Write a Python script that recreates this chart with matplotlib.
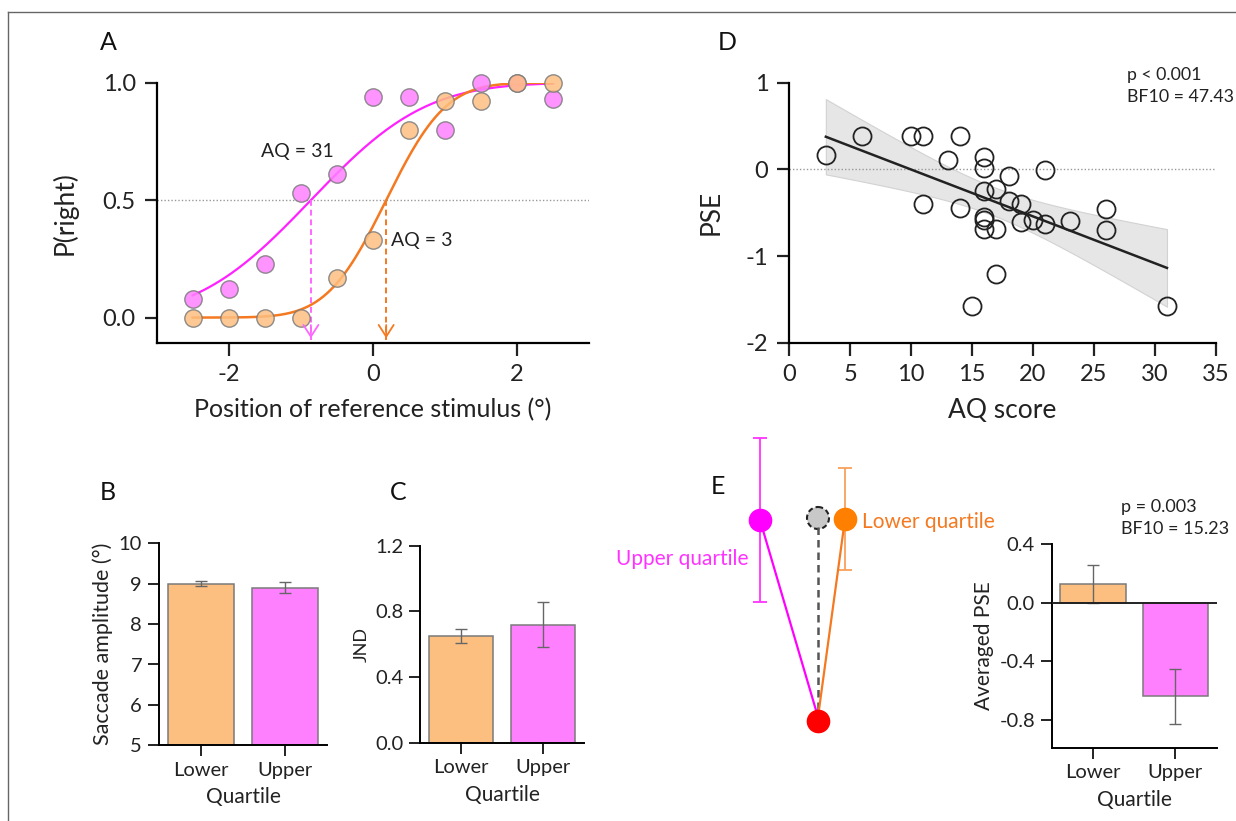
import math
import numpy as np
import matplotlib
matplotlib.use("Agg")
import matplotlib.pyplot as plt
from matplotlib.patches import Circle

plt.rcParams['font.family'] = ['Lato', 'DejaVu Sans']
plt.rcParams['axes.unicode_minus'] = False

# ---------------- data ----------------
# panel A: psychometric data for two example observers
stim_pos = [-2.5, -2.0, -1.5, -1.0, -0.5, 0.0, 0.5, 1.0, 1.5, 2.0, 2.5]
p_right_aq31 = [0.08, 0.12, 0.23, 0.53, 0.61, 0.94, 0.94, 0.80, 1.00, 1.00, 0.93]
p_right_aq3 = [0.00, 0.00, 0.00, 0.00, 0.17, 0.33, 0.80, 0.92, 0.92, 1.00, 1.00]
fit_pse_aq31, fit_sigma_aq31 = -0.86, 1.25
fit_pse_aq3, fit_sigma_aq3 = 0.185, 0.65

# panel D: PSE vs AQ score
aq_score = [3, 6, 10, 11, 14, 13, 16, 16, 21, 18, 11, 14, 16, 17, 18,
            19, 16, 16, 16, 17, 19, 20, 21, 23, 26, 26, 17, 15, 31]
pse = [0.17, 0.39, 0.39, 0.39, 0.39, 0.11, 0.14, 0.02, -0.01, -0.08, -0.40,
       -0.45, -0.25, -0.23, -0.36, -0.40, -0.55, -0.59, -0.69, -0.69, -0.61,
       -0.58, -0.63, -0.60, -0.46, -0.70, -1.21, -1.58, -1.58]

# panels B, C, E (bars)
quartiles = ["Lower", "Upper"]
saccade_amp = [9.00, 8.90]
saccade_err = [0.06, 0.13]
jnd = [0.65, 0.72]
jnd_err = [0.044, 0.14]
avg_pse = [0.125, -0.64]
avg_pse_err = [0.13, 0.19]

# panel E schematic (figure pixel positions)
schem_upper = (760, 520)
schem_upper_err = (438, 602)
schem_lower = (845, 519)
schem_lower_err = (468, 570)
schem_ref = (818, 518)
schem_target = (818, 721)

# ---------------- style ----------------
MAG = "#FF22FF"
MAG_FILL = "#FF80FF"
ORA = "#F47920"
ORA_FILL = "#FDBF80"
EDGE = "#7A7A7A"
INK = "#222222"
W, H = 1236, 821


def cum_gauss(x, mu, sigma):
    return np.array([0.5 * (1 + math.erf((v - mu) / (sigma * math.sqrt(2)))) for v in x])


def style_axes(ax, lw=1.6):
    ax.set_facecolor("none")
    for s in ["top", "right"]:
        ax.spines[s].set_visible(False)
    for s in ["left", "bottom"]:
        ax.spines[s].set_linewidth(lw)
    ax.tick_params(width=lw, length=9, direction="out", colors=INK)


def pix_axes(l, r, t, b):
    return fig.add_axes([l / W, 1 - b / H, (r - l) / W, (b - t) / H])


fig = plt.figure(figsize=(W / 100, H / 100), dpi=100)

# ---------------- panel A ----------------
axA = pix_axes(156.7, 589, 82.7, 342.7)
style_axes(axA)
xs = np.linspace(-2.5, 2.5, 200)
axA.axhline(0.5, color="#999999", lw=1, ls=(0, (1, 1.5)), zorder=1)
axA.plot(xs, cum_gauss(xs, fit_pse_aq31, fit_sigma_aq31), color=MAG, lw=1.6, zorder=2)
axA.plot(xs, cum_gauss(xs, fit_pse_aq3, fit_sigma_aq3), color=ORA, lw=1.8, zorder=2)
axA.plot(stim_pos, p_right_aq31, "o", ms=12.5, mfc=MAG_FILL, mec=EDGE, mew=1,
         alpha=0.85, clip_on=False, zorder=3)
axA.plot(stim_pos, p_right_aq3, "o", ms=12.5, mfc=ORA_FILL, mec=EDGE, mew=1,
         alpha=0.85, clip_on=False, zorder=3)
for mu, col in [(fit_pse_aq31, "#FF66FF"), (fit_pse_aq3, ORA)]:
    axA.plot([mu, mu], [0.5, -0.095], color=col, lw=1.4, ls=(0, (3, 2)), zorder=2)
    axA.annotate("", xy=(mu, -0.1), xytext=(mu, -0.02),
                 arrowprops=dict(arrowstyle="->,head_length=0.7,head_width=0.45",
                                 color=col, lw=1.3, mutation_scale=12))
axA.text(-1.05, 0.706, "AQ = 31", ha="center", va="center", fontsize=14, color=INK)
axA.text(0.68, 0.33, "AQ = 3", ha="center", va="center", fontsize=14, color=INK)
axA.set_xlim(-3, 3)
axA.set_ylim(-0.107, 1.0)
axA.set_xticks([-2, 0, 2])
axA.set_xticklabels(["-2", "0", "2"])
axA.set_yticks([0, 0.5, 1.0])
axA.set_yticklabels(["0.0", "0.5", "1.0"])
axA.tick_params(labelsize=17, pad=6)
axA.set_xlabel("Position of reference stimulus (°)", fontsize=18, labelpad=10, color=INK)
axA.set_ylabel("P(right)", fontsize=19, labelpad=18, color=INK)

# ---------------- panel D ----------------
axD = pix_axes(789.3, 1215.7, 82.7, 342.7)
style_axes(axD)
x = np.array(aq_score, float)
y = np.array(pse, float)
slope, icpt = np.polyfit(x, y, 1)
xl = np.linspace(x.min(), x.max(), 100)
yl = slope * xl + icpt
n = len(x)
resid = y - (slope * x + icpt)
s_err = np.sqrt(np.sum(resid ** 2) / (n - 2))
ci = 2.052 * s_err * np.sqrt(1 / n + (xl - x.mean()) ** 2 / np.sum((x - x.mean()) ** 2))
axD.fill_between(xl, yl - ci, yl + ci, color="#E6E6E6", ec="#D2D2D2", lw=0.8, zorder=1)
axD.axhline(0, color="#999999", lw=1, ls=(0, (1, 1.5)), zorder=1)
axD.plot(xl, yl, color=INK, lw=1.8, zorder=2)
axD.plot(x, y, "o", ms=13, mfc="none", mec=INK, mew=1.3, zorder=3)
axD.set_xlim(0, 35)
axD.set_ylim(-2, 1)
axD.set_xticks(range(0, 36, 5))
axD.set_yticks([1, 0, -1, -2])
axD.tick_params(labelsize=17, pad=6)
axD.set_xlabel("AQ score", fontsize=19, labelpad=10, color=INK)
axD.set_ylabel("PSE", fontsize=19, labelpad=16, color=INK)


# ---------------- bar panels ----------------
def bar_panel(ax, vals, errs, ylim, yticks, yticklabels, ylabel, ylab_size):
    style_axes(ax, lw=1.4)
    xpos = np.arange(len(quartiles))
    ax.bar(xpos, vals, width=0.79, color=[ORA_FILL, MAG_FILL], edgecolor=EDGE, lw=1.1, zorder=2)
    ax.errorbar(xpos, vals, yerr=errs, fmt="none", ecolor="#666666", elinewidth=1,
                capsize=4, capthick=1, zorder=3)
    ax.set_xlim(-0.5, 1.5)
    ax.set_ylim(*ylim)
    ax.set_xticks(xpos)
    ax.set_xticklabels(quartiles)
    ax.set_yticks(yticks)
    ax.set_yticklabels(yticklabels)
    ax.tick_params(labelsize=14.5, length=8, pad=4)
    ax.set_xlabel("Quartile", fontsize=15, labelpad=6, color=INK)
    ax.set_ylabel(ylabel, fontsize=ylab_size, color=INK)


axB = pix_axes(158.7, 327.3, 543.3, 745.3)
bar_panel(axB, saccade_amp, saccade_err, (5, 10), [5, 6, 7, 8, 9, 10],
          ["5", "6", "7", "8", "9", "10"], "Saccade amplitude (°)", 15.5)

axC = pix_axes(420, 584, 545.7, 742.7)
bar_panel(axC, jnd, jnd_err, (0, 1.2), [0, 0.4, 0.8, 1.2],
          ["0.0", "0.4", "0.8", "1.2"], "JND", 13)

axE = pix_axes(1051.7, 1216.7, 544, 747.7)
bar_panel(axE, avg_pse, avg_pse_err, (-0.99, 0.4), [0.4, 0.0, -0.4, -0.8],
          ["0.4", "0.0", "-0.4", "-0.8"], "Averaged PSE", 15)
axE.axhline(0, color=INK, lw=1.4, zorder=4)

# ---------------- overlay: labels, schematic, frame ----------------
ov = fig.add_axes([0, 0, 1, 1], zorder=10)
ov.set_xlim(0, W)
ov.set_ylim(H, 0)
ov.axis("off")
ov.plot([8, W + 5], [12, 12], color="#666666", lw=1)
ov.plot([8, 8], [12, H + 5], color="#666666", lw=1)

for lab, px, py in [("A", 108, 42), ("B", 108, 492), ("C", 398, 492),
                    ("D", 727, 42), ("E", 718, 487)]:
    ov.text(px, py, lab, fontsize=18, ha="center", va="center", color="#111111")

ov.text(1127, 75, "p < 0.001", fontsize=12.8, ha="left", va="center", color=INK)
ov.text(1127, 97, "BF10 = 47.43", fontsize=12.8, ha="left", va="center", color=INK)
ov.text(1121, 507, "p = 0.003", fontsize=13, ha="left", va="center", color=INK)
ov.text(1121, 529, "BF10 = 15.23", fontsize=13, ha="left", va="center", color=INK)

# schematic in panel E
ov.errorbar([schem_upper[0]], [schem_upper[1]],
            yerr=[[schem_upper[1] - schem_upper_err[0]], [schem_upper_err[1] - schem_upper[1]]],
            fmt="none", ecolor="#FF33FF", elinewidth=1.3, capsize=5, capthick=1.3)
ov.errorbar([schem_lower[0]], [schem_lower[1]],
            yerr=[[schem_lower[1] - schem_lower_err[0]], [schem_lower_err[1] - schem_lower[1]]],
            fmt="none", ecolor="#F9A05A", elinewidth=1.3, capsize=5, capthick=1.3)
ov.plot([schem_ref[0], schem_target[0]], [schem_ref[1] + 9, schem_target[1] - 6],
        color="#555555", lw=1.8, ls=(0, (3, 2)))
ov.plot([schem_upper[0], schem_target[0]], [schem_upper[1], schem_target[1] - 4],
        color="#FF00FF", lw=1.6)
ov.plot([schem_lower[0], schem_target[0]], [schem_lower[1], schem_target[1] - 4],
        color=ORA, lw=1.6)
ov.plot(*schem_upper, "o", ms=16, color="#FF00FF", mec="#FF00FF")
ov.plot(*schem_lower, "o", ms=16, color="#FF8000", mec="#FF8000")
ov.add_patch(Circle(schem_ref, 11, fc="#C8C8C8", ec="#222222", lw=1.5, ls=(0, (2.5, 1.5))))
ov.plot(*schem_target, "o", ms=16, color="#FF0000")
ov.text(749, 559, "Upper quartile", fontsize=15, color="#FF33FF", ha="right", va="center")
ov.text(862, 522, "Lower quartile", fontsize=15, color=ORA, ha="left", va="center")

fig.savefig("out.png", dpi=100)
